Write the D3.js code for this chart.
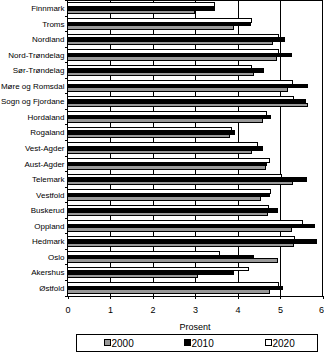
<!DOCTYPE html>
<html>
<head>
<meta charset="utf-8">
<script src="https://cdn.jsdelivr.net/npm/d3@7"></script>
<style>
  html, body { margin: 0; padding: 0; background: #fff; }
  svg { display: block; }
  text { font-family: Arial, "Liberation Sans", sans-serif; fill: #000; }
</style>
</head>
<body>
<script>
const categories = ["Finnmark", "Troms", "Nordland", "Nord-Trøndelag", "Sør-Trøndelag",
  "Møre og Romsdal", "Sogn og Fjordane", "Hordaland", "Rogaland", "Vest-Agder",
  "Aust-Agder", "Telemark", "Vestfold", "Buskerud", "Oppland", "Hedmark",
  "Oslo", "Akershus", "Østfold"];
const series = ["2000", "2010", "2020"];
const v2000 = [2.98, 3.90, 4.83, 4.91, 4.37, 5.17, 5.65, 4.58, 3.80, 4.32, 4.66, 5.29, 4.54, 4.70, 5.27, 5.31, 4.94, 3.05, 4.75];
const v2010 = [3.47, 4.31, 5.11, 5.28, 4.61, 5.65, 5.61, 4.78, 3.93, 4.59, 4.69, 5.63, 4.76, 4.94, 5.80, 5.87, 4.38, 3.91, 5.06];
const v2020 = [3.47, 4.32, 4.96, 4.96, 4.32, 5.29, 5.31, 4.68, 3.85, 4.46, 4.75, 5.03, 4.77, 4.72, 5.54, 5.34, 3.57, 4.25, 4.96];
const xTicks = [0, 1, 2, 3, 4, 5, 6];
const xTitle = "Prosent";

(function () {
const values = { "2000": v2000, "2010": v2010, "2020": v2020 };
const colors = { "2000": "#999999", "2010": "#000000", "2020": "#ffffff" };

const W = 324, H = 352;
const pLeft = 67.5, pRight = 322.5, pTop = 0.5, pBottom = 296;

const svg = d3.select("body").append("svg").attr("width", W).attr("height", H);

const x = d3.scaleLinear().domain([0, 6]).range([pLeft, pRight]);
const y = d3.scaleBand().domain(categories).range([pTop, pBottom]).padding(0);
const inset = y.bandwidth() * 0.16;
// bars drawn top-to-bottom: 2020, 2010, 2000
const y1 = d3.scaleBand().domain(["2020", "2010", "2000"]).range([inset, y.bandwidth() - inset]);

const g = svg.append("g").attr("shape-rendering", "crispEdges");

// gridlines
g.selectAll("line.grid").data(xTicks.filter(d => d > 0 && d < 6)).join("line")
  .attr("x1", d => Math.round(x(d)) + 0.5).attr("x2", d => Math.round(x(d)) + 0.5)
  .attr("y1", pTop).attr("y2", pBottom)
  .attr("stroke", "#000").attr("stroke-width", 1);

// frame top/right
g.append("line").attr("x1", pLeft).attr("x2", pRight).attr("y1", pTop).attr("y2", pTop).attr("stroke", "#000");
g.append("line").attr("x1", pRight).attr("x2", pRight).attr("y1", pTop).attr("y2", pBottom).attr("stroke", "#000");

// bars
const rows = [];
categories.forEach((c, i) => series.forEach(s => rows.push({ c, s, v: values[s][i] })));
g.selectAll("rect.bar").data(rows).join("rect")
  .attr("x", x(0))
  .attr("y", d => y(d.c) + y1(d.s))
  .attr("width", d => x(d.v) - x(0))
  .attr("height", y1.bandwidth())
  .attr("fill", d => colors[d.s])
  .attr("stroke", "#000").attr("stroke-width", 1);

// y axis line and boundary ticks
g.append("line").attr("x1", pLeft).attr("x2", pLeft).attr("y1", pTop).attr("y2", pBottom).attr("stroke", "#000");
const bounds = categories.map(c => y(c)).concat([pBottom]);
g.selectAll("line.ytick").data(bounds).join("line")
  .attr("x1", pLeft - 3).attr("x2", pLeft)
  .attr("y1", d => d).attr("y2", d => d)
  .attr("stroke", "#000");

// category labels
svg.selectAll("text.cat").data(categories).join("text")
  .attr("x", pLeft - 3)
  .attr("y", d => y(d) + y.bandwidth() / 2)
  .attr("dy", "0.35em")
  .attr("text-anchor", "end")
  .attr("font-size", 8)
  .text(d => d);

// x axis
const xAxis = d3.axisBottom(x).tickValues(xTicks).tickFormat(d3.format("d")).tickSize(3).tickPadding(8);
const ax = svg.append("g").attr("transform", `translate(0,${pBottom})`).attr("shape-rendering", "crispEdges").call(xAxis);
ax.select(".domain").attr("stroke", "#000");
ax.selectAll(".tick line").attr("stroke", "#000");
ax.selectAll(".tick text").attr("font-size", 9).attr("font-family", "Arial, 'Liberation Sans', sans-serif").attr("fill", "#000");
// keep the last label inside the picture
ax.selectAll(".tick text").filter(d => d === xTicks[xTicks.length - 1])
  .attr("text-anchor", "end").attr("x", W - pRight - 0.5);

// x title
svg.append("text").attr("x", (pLeft + pRight) / 2).attr("y", 330)
  .attr("text-anchor", "middle").attr("font-size", 9).text(xTitle);

// legend
const lg = svg.append("g").attr("shape-rendering", "crispEdges");
lg.append("rect").attr("x", 76.5).attr("y", 334.5).attr("width", 241).attr("height", 17)
  .attr("fill", "#fff").attr("stroke", "#000");
const legX = [104.5, 184.5, 265.5];
series.forEach((s, i) => {
  lg.append("rect").attr("x", legX[i]).attr("y", 339.5).attr("width", 6).attr("height", 6)
    .attr("fill", colors[s]).attr("stroke", "#000");
  svg.append("text").attr("x", legX[i] + 7).attr("y", 343).attr("dy", "0.35em")
    .attr("font-size", 10).text(s);
});
})();
</script>
</body>
</html>
